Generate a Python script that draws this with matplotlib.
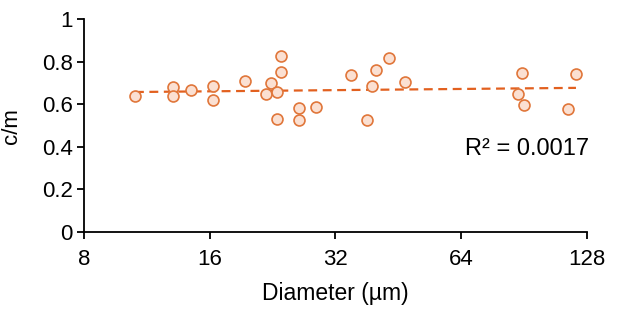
import numpy as np
import matplotlib
matplotlib.use('Agg')
import matplotlib.pyplot as plt
from matplotlib.ticker import FixedLocator, FixedFormatter

plt.rcParams['font.family'] = ['Liberation Sans', 'DejaVu Sans']

# 直径 (µm) 与 c/m 的读数
diameter = [10.6, 13.1, 13.1, 14.4, 16.3, 16.3, 19.4, 22.4, 21.8, 23.2, 23.7, 23.7,
            23.2, 26.2, 26.2, 28.8, 34.9, 40.0, 39.2, 38.1, 43.0, 47.0, 89.5, 87.6,
            90.5, 115.4, 120.6]
cm_ratio = [0.640, 0.681, 0.640, 0.668, 0.686, 0.620, 0.709, 0.700, 0.648, 0.657, 0.826, 0.751,
            0.531, 0.582, 0.526, 0.587, 0.737, 0.760, 0.686, 0.526, 0.817, 0.704, 0.746, 0.648,
            0.596, 0.577, 0.742]
x_ticks = [8, 16, 32, 64, 128]
y_ticks = [0, 0.2, 0.4, 0.6, 0.8, 1]
y_tick_labels = ['0', '0.2', '0.4', '0.6', '0.8', '1']
r2_text = 'R² = 0.0017'

fig = plt.figure(figsize=(6.17, 3.09), dpi=100)
ax = fig.add_axes([0.136, 0.249, 0.815, 0.689])

# 对数趋势线 (y = a + b ln x)
b, a = np.polyfit(np.log(diameter), cm_ratio, 1)
xs = np.array([min(diameter), max(diameter)])
ax.plot(xs, a + b * np.log(xs), linestyle=(0, (4, 2.5)), color='#E2601F', lw=1.6, zorder=2)

ax.scatter(diameter, cm_ratio, s=62, facecolor='#FBE0D2', edgecolor='#E0763A',
           linewidths=1.2, zorder=3)

ax.set_xscale('log', base=2)
ax.set_xlim(8, 128)
ax.set_ylim(0, 1)
ax.xaxis.set_major_locator(FixedLocator(x_ticks))
ax.xaxis.set_major_formatter(FixedFormatter([str(t) for t in x_ticks]))
ax.xaxis.set_minor_locator(FixedLocator([]))
ax.set_yticks(y_ticks)
ax.set_yticklabels(y_tick_labels)

for side in ['top', 'right']:
    ax.spines[side].set_visible(False)
for side in ['left', 'bottom']:
    ax.spines[side].set_linewidth(1.3)
ax.tick_params(labelsize=16, width=1.3, length=5, pad=3)
ax.tick_params(axis='x', pad=7.5)

ax.set_xlabel('Diameter (µm)', fontsize=16.5, labelpad=8)
ax.set_ylabel('c/m', fontsize=16, labelpad=14)

ax.text(1.005, 0.39, r2_text, transform=ax.transAxes, ha='right', va='center', fontsize=17)

fig.savefig('out.png', dpi=100)
